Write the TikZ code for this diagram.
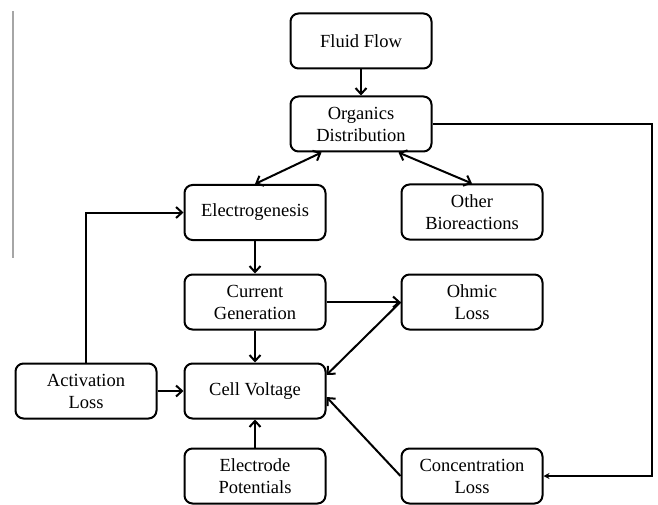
\documentclass[tikz,border=0pt]{standalone}
\usepackage{fontspec}
\setmainfont{Liberation Serif}
\usetikzlibrary{arrows.meta}
\begin{document}
\begin{tikzpicture}[x=1pt,y=-1pt,
  box/.style={draw,line width=2pt,rounded corners=8pt,minimum width=141pt,minimum height=55pt,inner sep=0pt,align=center,font=\fontsize{18.5}{22}\selectfont},
  conn/.style={line width=2pt,-{Straight Barb[length=6pt,width=11pt,line width=2pt]}},
  dconn/.style={line width=2pt,{Straight Barb[length=6pt,width=11pt,line width=2pt]}-{Straight Barb[length=6pt,width=11pt,line width=2pt]}}]
\useasboundingbox (0,0) rectangle (658,505);
\coordinate (vt) at (13,11);
\coordinate (vb) at (13,258);
\draw[gray!70,line width=1.2pt] (vt) -- (vb);
\node[box] (fluid) at (361,41) {Fluid Flow};
\node[box] (org) at (361,124) {Organics\\Distribution};
\node[box] (elec) at (255,212.5) {Electrogenesis};
\node[box] (other) at (472,212) {Other\\Bioreactions};
\node[box] (curr) at (255,302) {Current\\Generation};
\node[box] (ohm) at (472,302) {Ohmic\\Loss};
\node[box] (act) at (86,391) {Activation\\Loss};
\node[box] (cell) at (255,391) {Cell Voltage};
\node[box] (elpot) at (255,476) {Electrode\\Potentials};
\node[box] (conc) at (472,476) {Concentration\\Loss};
\coordinate (rc) at (652,124);
\draw[conn] (fluid) -- (org);
\draw[dconn] ([xshift=32pt]org.south west) -- (elec.north);
\draw[dconn] ([xshift=-34pt]org.south east) -- (other.north);
\draw[conn] (elec) -- (curr);
\draw[conn] (curr) -- (cell);
\draw[conn] (elpot) -- (cell);
\draw[conn] (act) -- (cell);
\draw[conn] (act.north) |- (elec.west);
\draw[conn] (curr.east) -- (ohm.west);
\draw[conn] (ohm.west) -- ([yshift=16pt]cell.east);
\draw[conn] (conc.west) -- ([yshift=-6pt]cell.east);
\draw[line width=2pt,-{Stealth[length=6pt,width=6pt]}] (org.east) -- (rc) |- (conc.east);
\end{tikzpicture}
\end{document}
